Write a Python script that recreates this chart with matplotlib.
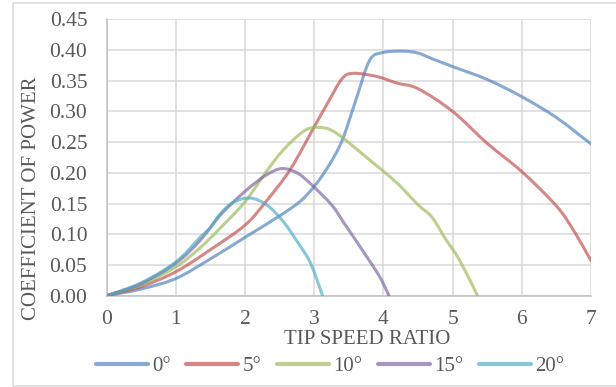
import matplotlib
matplotlib.use("Agg")
import matplotlib.pyplot as plt
import numpy as np
from matplotlib.path import Path
from matplotlib.patches import PathPatch, Rectangle
from matplotlib.lines import Line2D

# ---- data ----
labels = ["0°", "5°", "10°", "15°", "20°"]

tsr_0 = [0, 0.5, 1.0, 1.5, 2.0, 2.5, 2.8, 3.0, 3.2, 3.4, 3.6, 3.8, 4.0, 4.3, 4.5, 4.7, 5.0, 5.5, 6.0, 6.5, 7.0]
cp_0 = [0, 0.011, 0.028, 0.060, 0.095, 0.130, 0.154, 0.178, 0.210, 0.252, 0.318, 0.383, 0.396, 0.398, 0.395, 0.386, 0.373, 0.352, 0.324, 0.290, 0.247]

tsr_5 = [0, 0.5, 1.0, 1.5, 2.0, 2.3, 2.65, 3.0, 3.2, 3.4, 3.56, 3.9, 4.2, 4.5, 5.0, 5.5, 6.0, 6.5, 6.75, 7.0]
cp_5 = [0, 0.015, 0.039, 0.075, 0.115, 0.153, 0.205, 0.275, 0.315, 0.353, 0.362, 0.357, 0.346, 0.337, 0.300, 0.248, 0.202, 0.146, 0.106, 0.057]

tsr_10 = [0, 0.5, 1.0, 1.35, 1.64, 2.0, 2.3, 2.55, 2.85, 3.05, 3.3, 3.8, 4.2, 4.5, 4.7, 4.9, 5.1, 5.36]
cp_10 = [0, 0.018, 0.047, 0.078, 0.110, 0.153, 0.201, 0.237, 0.268, 0.274, 0.266, 0.221, 0.183, 0.148, 0.128, 0.092, 0.058, 0.0]

tsr_15 = [0, 0.5, 1.0, 1.35, 1.64, 2.0, 2.3, 2.53, 2.75, 2.94, 3.25, 3.45, 3.75, 3.95, 4.08]
cp_15 = [0, 0.020, 0.053, 0.090, 0.131, 0.170, 0.196, 0.207, 0.200, 0.183, 0.148, 0.115, 0.065, 0.030, 0.0]

tsr_20 = [0, 0.5, 1.0, 1.35, 1.5, 1.64, 1.83, 2.07, 2.31, 2.55, 2.79, 2.95, 3.12]
cp_20 = [0, 0.021, 0.055, 0.095, 0.111, 0.133, 0.152, 0.159, 0.148, 0.121, 0.082, 0.052, 0.0]

x_ticks = [0, 1, 2, 3, 4, 5, 6, 7]
y_ticks = [0.00, 0.05, 0.10, 0.15, 0.20, 0.25, 0.30, 0.35, 0.40, 0.45]

colors = ["#4F81BD", "#C0504D", "#9BBB59", "#8064A2", "#4BACC6"]
series = [(tsr_0, cp_0), (tsr_5, cp_5), (tsr_10, cp_10), (tsr_15, cp_15), (tsr_20, cp_20)]

plt.rcParams['font.family'] = ['Liberation Serif', 'DejaVu Serif']
text_color = "#595959"


def smooth_path(xs, ys):
    """Excel-like smoothed line: cubic Bezier segments through the data points."""
    p = np.column_stack([xs, ys]).astype(float)
    n = len(p)
    verts = [p[0]]
    codes = [Path.MOVETO]
    for i in range(n - 1):
        p0 = p[i - 1] if i > 0 else p[i]
        p1 = p[i]
        p2 = p[i + 1]
        p3 = p[i + 2] if i + 2 < n else p[i + 1]
        c1 = p1 + (p2 - p0) / 6.0
        c2 = p2 - (p3 - p1) / 6.0
        verts += [c1, c2, p2]
        codes += [Path.CURVE4] * 3
    return Path(np.array(verts), codes)


fig = plt.figure(figsize=(6.16, 3.87), dpi=100)
ax = fig.add_axes([106.7 / 616, 1 - 295.7 / 387, (591 - 106.7) / 616, (295.7 - 19.3) / 387])

for (xs, ys), c in zip(series, colors):
    patch = PathPatch(smooth_path(xs, ys), facecolor="none", edgecolor=c,
                      lw=2.2, alpha=0.68, capstyle="round", joinstyle="round", zorder=3)
    ax.add_patch(patch)

ax.set_xlim(0, 7)
ax.set_ylim(0, 0.45)
ax.set_xticks(x_ticks)
ax.set_yticks(y_ticks)
ax.set_xticklabels([str(v) for v in x_ticks])
ax.set_yticklabels([f"{v:.2f}" for v in y_ticks])
ax.grid(True, color="#D9D9D9", lw=1.1, zorder=0)
ax.set_axisbelow(True)
ax.tick_params(length=0, labelsize=15.5, colors=text_color)
ax.tick_params(axis="y", pad=14)
ax.tick_params(axis="x", pad=10)
for s in ["top", "right"]:
    ax.spines[s].set_visible(False)
for s in ["left", "bottom"]:
    ax.spines[s].set_color("#BFBFBF")
    ax.spines[s].set_linewidth(1.1)

fig.text(367 / 616, 1 - 340 / 387, "TIP SPEED RATIO", ha="center", va="center",
         fontsize=15, color=text_color)
fig.text(31.7 / 616, 1 - 198.5 / 387, "COEFFICIENT OF POWER", ha="center", va="center",
         rotation=90, fontsize=15, color=text_color)

handles = [Line2D([0], [0], color=c, lw=3, alpha=0.68, solid_capstyle="round") for c in colors]
fig.legend(handles, labels, loc="center", bbox_to_anchor=(330 / 616, 1 - 366.7 / 387),
           ncol=5, frameon=False, fontsize=15, handlelength=2.5, handletextpad=0.2,
           columnspacing=0.75, labelcolor=text_color, borderpad=0, borderaxespad=0)

border = Rectangle((13 / 616, 1 - 385.5 / 387), 1.0, (385.5 - 2.5) / 387,
                   transform=fig.transFigure, fill=False, edgecolor="#D9D9D9", lw=1.1)
fig.add_artist(border)

fig.savefig("out.png", dpi=100)
